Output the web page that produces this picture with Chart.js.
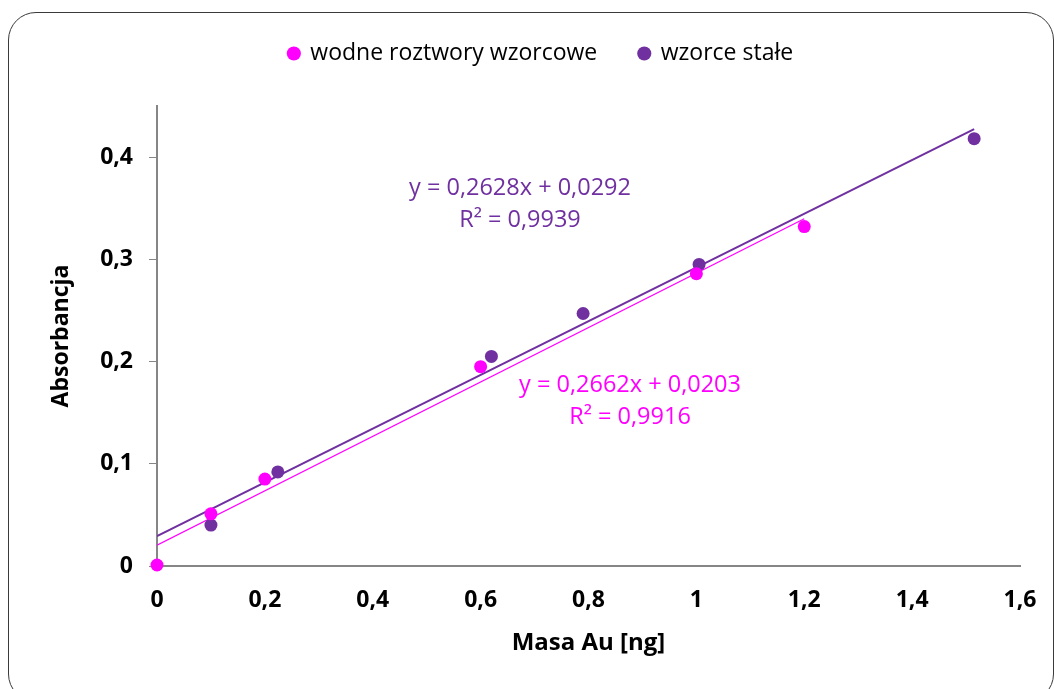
<!DOCTYPE html>
<html>
<head>
<meta charset="utf-8">
<script src="https://cdn.jsdelivr.net/npm/chart.js@4.4.1/dist/chart.umd.min.js"></script>
<style>
  html, body { margin: 0; padding: 0; background: #fff; overflow: hidden; }
  #wrap { position: relative; width: 1054px; height: 689px; }
  #frame { position: absolute; left: 8px; top: 12px; width: 1046px; height: 690px;
           border: 1px solid #3a3a3a; border-radius: 28px; box-sizing: border-box; }
  canvas { position: absolute; left: 0; top: 0; }
</style>
</head>
<body>
<div id="wrap">
  <div id="frame"></div>
  <canvas id="myChart" width="1054" height="689"></canvas>
</div>
<script>
// wodne roztwory wzorcowe
var waterX = [0, 0.1, 0.2, 0.6, 1.0, 1.2];
var waterY = [0.001, 0.051, 0.085, 0.195, 0.286, 0.332];
// wzorce stałe
var solidX = [0.1, 0.224, 0.62, 0.79, 1.005, 1.515];
var solidY = [0.040, 0.092, 0.205, 0.247, 0.295, 0.418];
// trendline ends
var waterTrendX = [0, 1.2];
var waterTrendY = [0.0203, 0.3397];
var solidTrendX = [0, 1.515];
var solidTrendY = [0.0292, 0.4273];

var pink = '#FF00FF';
var purple = '#7030A0';
var FONT = '"Open Sans", sans-serif';

function pts(xs, ys) {
    return xs.map(function (x, i) { return { x: x, y: ys[i] }; });
}

// equation labels
var notes = [
    { x: 0.673, y: 0.369, text: 'y = 0,2628x + 0,0292', color: purple },
    { x: 0.673, y: 0.338, text: 'R² = 0,9939', color: purple },
    { x: 0.877, y: 0.177, text: 'y = 0,2662x + 0,0203', color: pink },
    { x: 0.877, y: 0.145, text: 'R² = 0,9916', color: pink }
];

var notePlugin = {
    id: 'notes',
    afterDatasetsDraw: function (chart) {
        var c = chart.ctx, xs = chart.scales.x, ys = chart.scales.y;
        c.save();
        c.font = '23.5px ' + FONT;
        c.textAlign = 'center';
        c.textBaseline = 'middle';
        notes.forEach(function (n) {
            c.fillStyle = n.color;
            c.fillText(n.text, xs.getPixelForValue(n.x), ys.getPixelForValue(n.y));
        });
        c.restore();
    }
};

// extra space under the legend, and nudge it right a bit
var legendGap = {
    id: 'legendGap',
    beforeInit: function (chart) {
        var fit = chart.legend.fit;
        chart.legend.fit = function () {
            fit.bind(chart.legend)();
            this.height += 31;
        };
    },
    afterLayout: function (chart) {
        chart.legend.left += 31;
        chart.legend.right += 31;
    }
};

function tickText(v) {
    return String(Math.round(v * 10) / 10).replace('.', ',');
}

var ctx = document.getElementById('myChart').getContext('2d');
var chart = new Chart(ctx, {
    type: 'scatter',
    data: {
        datasets: [{
            label: 'wodne roztwory wzorcowe',
            data: pts(waterX, waterY),
            backgroundColor: pink,
            borderColor: pink,
            pointRadius: 6.5,
            pointBorderWidth: 0,
            clip: false
        }, {
            label: 'wzorce stałe',
            data: pts(solidX, solidY),
            backgroundColor: purple,
            borderColor: purple,
            pointRadius: 6.5,
            pointBorderWidth: 0,
            clip: false
        }, {
            label: 'trend1',
            type: 'line',
            data: pts(waterTrendX, waterTrendY),
            borderColor: pink,
            borderWidth: 1.3,
            pointRadius: 0,
            fill: false
        }, {
            label: 'trend2',
            type: 'line',
            data: pts(solidTrendX, solidTrendY),
            borderColor: purple,
            borderWidth: 2,
            pointRadius: 0,
            fill: false
        }]
    },
    options: {
        responsive: false,
        animation: false,
        layout: { padding: { top: 0, right: 34, bottom: 0, left: 0 } },
        plugins: {
            tooltip: { enabled: false },
            legend: {
                position: 'top',
                labels: {
                    filter: function (item) { return item.text.indexOf('trend') !== 0; },
                    usePointStyle: true,
                    pointStyle: 'circle',
                    boxWidth: 10,
                    boxHeight: 10,
                    padding: 42,
                    color: '#000',
                    font: { family: FONT, size: 23 }
                }
            }
        },
        scales: {
            x: {
                type: 'linear',
                min: 0,
                max: 1.6,
                ticks: {
                    stepSize: 0.2,
                    color: '#000',
                    padding: 13,
                    font: { family: FONT, size: 23, weight: 'bold' },
                    callback: tickText
                },
                grid: { display: false, drawOnChartArea: false, drawTicks: true, tickLength: 8, color: '#868686' },
                border: { display: true, color: '#868686', width: 2 },
                title: {
                    display: true,
                    text: 'Masa Au [ng]',
                    color: '#000',
                    font: { family: FONT, size: 24, weight: 'bold' },
                    padding: { top: 0, bottom: 31 }
                },
                afterFit: function (s) { s.height = 123; }
            },
            y: {
                type: 'linear',
                min: 0,
                max: 0.45,
                ticks: {
                    stepSize: 0.1,
                    includeBounds: false,
                    color: '#000',
                    padding: 16,
                    font: { family: FONT, size: 23, weight: 'bold' },
                    callback: tickText
                },
                grid: { display: true, drawOnChartArea: false, drawTicks: true, tickLength: 8, color: '#868686' },
                border: { display: true, color: '#868686', width: 2 },
                title: {
                    display: true,
                    text: 'Absorbancja',
                    color: '#000',
                    font: { family: FONT, size: 23, weight: 'bold' },
                    padding: { top: 48, bottom: 0 }
                },
                afterFit: function (s) { s.width = 157; }
            }
        }
    },
    plugins: [notePlugin, legendGap]
});
</script>
</body>
</html>
